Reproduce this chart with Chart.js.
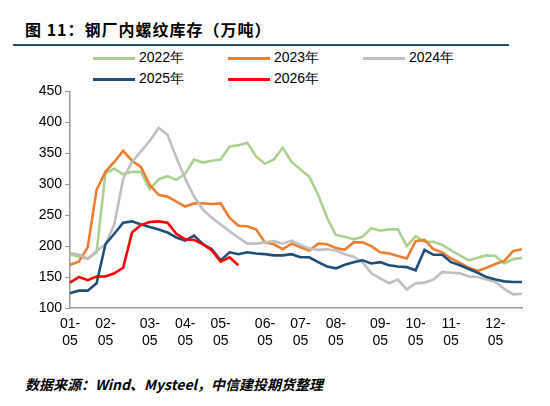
<!DOCTYPE html>
<html><head><meta charset="utf-8">
<script src="https://cdn.jsdelivr.net/npm/chart.js@4"></script>
<style>
body{margin:0;width:550px;height:406px;background:#fff;position:relative;font-family:"Liberation Sans",Arial,sans-serif;overflow:hidden}
#title{position:absolute;left:25px;top:17px;font-size:16px;font-weight:bold;font-family:"Noto Sans CJK SC","Liberation Sans",sans-serif;color:#000;letter-spacing:1px}
#rule{position:absolute;left:13px;top:44px;width:496px;height:2px;background:#1f4e79}
.lg{position:absolute;font-size:14px;color:#000;line-height:16px}
.lg span{display:inline-block;width:42px;height:3px;vertical-align:middle;margin-right:4px}
#foot{position:absolute;left:25px;top:374px;font-size:14px;font-style:italic;font-weight:bold;font-family:"Noto Sans CJK SC","Liberation Sans",sans-serif}
#wrap{position:absolute;left:0;top:80px;width:550px;height:280px}
</style></head><body>
<div id="title">图 11：钢厂内螺纹库存（万吨）</div>
<div id="rule"></div>
<div id="legend"></div>
<div id="wrap"><canvas id="c"></canvas></div>
<div id="foot">数据来源：Wind、Mysteel，中信建投期货整理</div>
<script>
const seriesNames=["2022年","2023年","2024年","2025年","2026年"];
const colors=["#a9d18e","#ed7d31","#bfbfbf","#1f4e79","#ff0000"];
const monthLabels=["01-05","02-05","03-05","04-05","05-05","06-05","07-05","08-05","09-05","10-05","11-05","12-05"];
const monthIdx=[0,4,9,13,17,22,26,30,35,39,43,48];
const v2022=[187,183,179,190,318,325,316,320,320,292,308,313,307,317,340,335,338,340,361,363,367,345,333,340,359,336,324,312,283,246,218,215,211,215,229,225,227,227,200,216,207,207,202,193,185,177,181,185,184,172,179,181];
const v2023=[170,175,198,291,320,336,354,338,328,299,283,280,272,264,269,269,268,269,246,233,232,227,206,203,195,204,198,193,204,203,197,194,206,206,200,190,188,184,180,208,210,195,190,180,173,165,160,165,171,176,192,195];
const v2024=[189,186,180,192,203,235,309,336,353,370,391,380,343,309,280,259,246,235,224,214,204,204,206,208,204,209,202,196,194,195,193,187,183,174,156,148,140,146,130,140,141,146,158,157,156,151,150,146,142,131,122,123];
const v2025=[124,128,128,140,203,220,238,240,235,231,227,222,214,209,217,203,195,177,190,187,190,188,187,185,185,187,182,182,174,167,164,170,174,177,172,174,169,167,166,161,194,186,186,174,169,163,157,150,146,143,142,142];
const v2026=[141,150,145,151,151,156,165,222,234,239,240,238,220,211,210,203,193,175,182,169];
const all=[v2022,v2023,v2024,v2025,v2026];
const labels=v2022.map((_,i)=>{const k=monthIdx.indexOf(i);return k>=0?monthLabels[k]:"";});
const lg=document.getElementById('legend');
const pos=[[93,49],[228,49],[363,49],[93,70],[228,70]];
seriesNames.forEach((n,i)=>{const d=document.createElement('div');d.className='lg';d.style.left=pos[i][0]+'px';d.style.top=pos[i][1]+'px';d.innerHTML='<span style="background:'+colors[i]+'"></span>'+n;lg.appendChild(d);});
new Chart(document.getElementById('c'),{type:'line',
data:{labels,datasets:all.map((d,i)=>({label:seriesNames[i],data:d,borderColor:colors[i],borderWidth:2.6,pointRadius:0,tension:0,fill:false,order:5-i}))},
options:{responsive:true,maintainAspectRatio:false,animation:false,
layout:{padding:{top:8,right:28,left:0,bottom:0}},
plugins:{legend:{display:false},tooltip:{enabled:false}},
scales:{
x:{offset:false,grid:{display:false,drawTicks:false},border:{color:'#999',width:1.5},
 ticks:{autoSkip:false,maxRotation:0,padding:8,color:'#000',font:{size:14,family:'Liberation Sans'},
 callback:function(v,i){const l=labels[i];return l?[l.slice(0,3),l.slice(3)]:null;}},
 afterFit:a=>{a.height=52;}},
y:{min:100,max:450,grid:{drawOnChartArea:false,tickLength:5,color:'#999'},border:{color:'#999',width:1.5},
 ticks:{stepSize:50,color:'#000',padding:3,font:{size:14,family:'Liberation Sans'}},
 afterFit:a=>{a.width=70;}}
}}});
</script></body></html>
